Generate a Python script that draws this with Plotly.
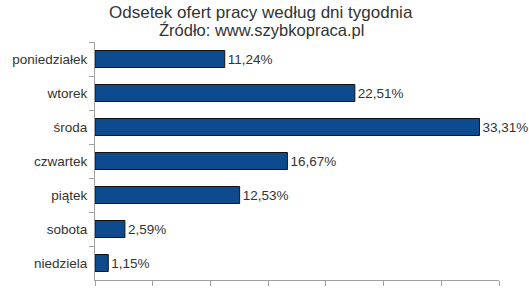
import plotly.graph_objects as go

categories = ["poniedziałek", "wtorek", "środa", "czwartek", "piątek", "sobota", "niedziela"]
values = [11.24, 22.51, 33.31, 16.67, 12.53, 2.59, 1.15]
labels = [f"{v:.2f}".replace(".", ",") + "%" for v in values]

title = "Odsetek ofert pracy według dni tygodnia"
subtitle = "Źródło: www.szybkopraca.pl"

FONT = "Liberation Sans, Arial"
cx = (260 - 93) / (499 - 93)

fig = go.Figure(go.Bar(
    x=values, y=categories, orientation="h",
    marker=dict(color="#0E4A8E", line=dict(color="#111111", width=1)),
    text=labels, textposition="outside", cliponaxis=False,
    textfont=dict(family=FONT, size=13.5, color="#333333"),
))

fig.update_layout(
    width=529, height=297,
    margin=dict(l=93, r=30, t=42, b=12),
    paper_bgcolor="white", plot_bgcolor="white",
    bargap=0.5, showlegend=False,
    font=dict(family=FONT, size=13.5, color="#333333"),
    annotations=[
        dict(text=title, xref="paper", yref="paper", x=cx, xanchor="center",
             y=1, yanchor="middle", yshift=30, showarrow=False,
             font=dict(size=17, color="#333333", family=FONT)),
        dict(text=subtitle, xref="paper", yref="paper", x=cx, xanchor="center",
             y=1, yanchor="middle", yshift=12, showarrow=False,
             font=dict(size=16.5, color="#333333", family=FONT)),
    ],
)
fig.update_xaxes(range=[0, 35], dtick=5, showgrid=False, zeroline=False,
                 showline=True, linecolor="#a0a0a0", linewidth=1,
                 ticks="outside", ticklen=5, tickcolor="#a0a0a0",
                 showticklabels=False)
fig.update_yaxes(autorange="reversed", showgrid=False, showline=True,
                 linecolor="#a0a0a0", linewidth=1, ticks="outside", ticklen=5,
                 tickcolor="#a0a0a0", tickson="boundaries", ticklabelstandoff=4,
                 tickfont=dict(size=13.5, color="#333333"))

fig.write_html("out.html")
